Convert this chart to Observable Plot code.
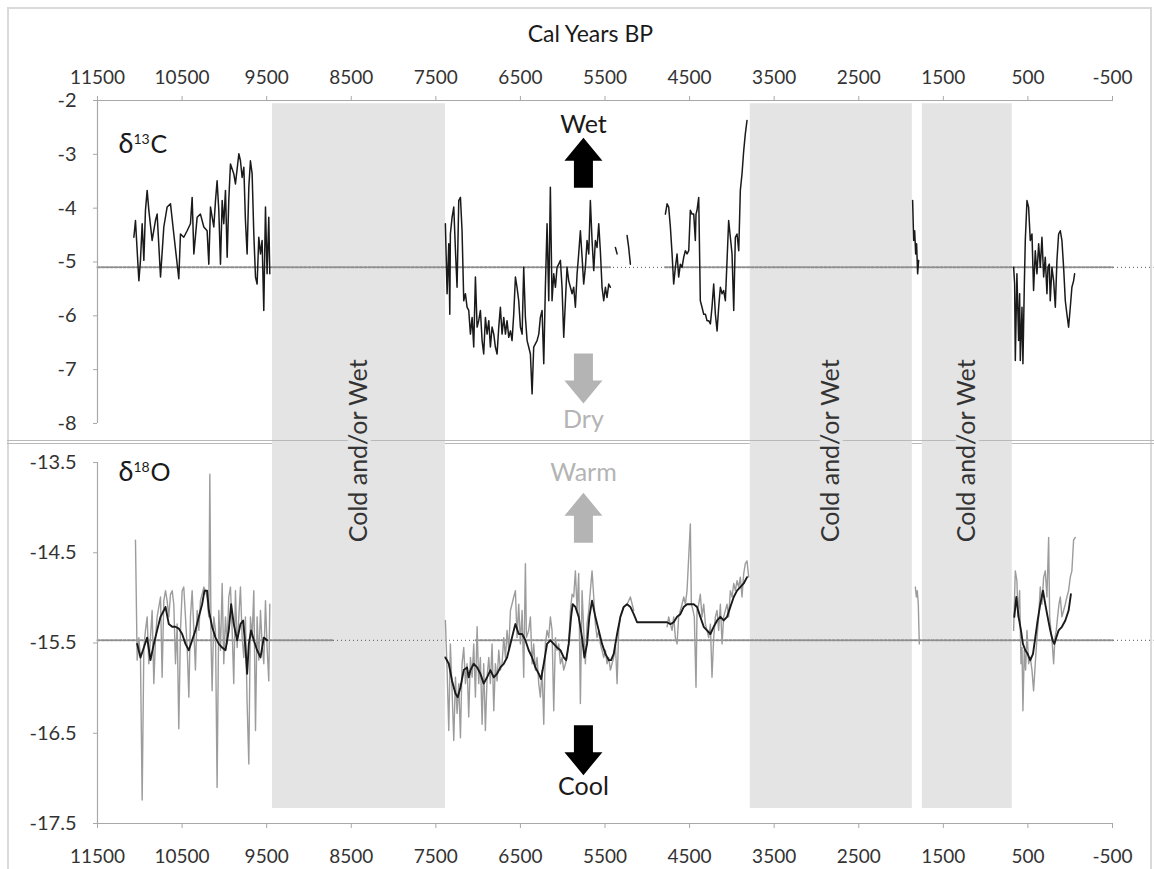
<!DOCTYPE html>
<html><head><meta charset="utf-8">
<script src="https://cdn.jsdelivr.net/npm/d3@7"></script>
<script src="https://cdn.jsdelivr.net/npm/@observablehq/plot@0.6"></script>
<style>
body{margin:0;background:#fff;}
#chart{position:relative;width:1154px;height:869px;overflow:hidden;font-family:Lato,sans-serif;background:#fff;}
#chart svg{position:absolute;left:0;overflow:visible;}
.frame{position:absolute;left:7px;top:7px;width:1141px;height:880px;border-left:2px solid #dadada;border-top:2px solid #dadada;border-right:2px solid #dadada;}
.sep{position:absolute;left:7px;top:440px;width:1147px;height:2px;border-top:1px solid #b9b9b9;border-bottom:1px solid #b9b9b9;}
</style></head><body><div id="chart"><div class="frame"></div></div>
<script>
// ---------- data ----------
const xTicks = [11500, 10500, 9500, 8500, 7500, 6500, 5500, 4500, 3500, 2500, 1500, 500, -500];
const d13cTicks = [-2, -3, -4, -5, -6, -7, -8];
const d18oTicks = [-13.5, -14.5, -15.5, -16.5, -17.5];
const coldBands = [{start: 9431, end: 7387}, {start: 3782, end: 1867}, {start: 1748, end: 685}];
const bandLabel = "Cold and/or Wet";
const d13cMean = -5.1;
const d18oMean = -15.47;
// ranges where the mean line is drawn heavy (start year, end year)
const d13cMeanHeavy = [[11500, 5440], [4790, -500]];
const d18oMeanHeavy = [[11500, 8710], [7030, -500]];

// δ13C record [cal yr BP, ‰]
const d13cSeg1 = [[11070,-4.54],[11051,-4.23],[11011,-5.35],[10992,-4.97],[10972,-4.29],[10952,-4.97],[10933,-4.04],[10913,-3.67],[10893,-4.04],[10854,-4.60],[10815,-4.23],[10795,-4.11],[10755,-5.28],[10716,-4.35],[10677,-3.98],[10637,-3.92],[10598,-4.48],[10539,-5.31],[10519,-4.48],[10480,-4.54],[10440,-4.42],[10401,-4.29],[10381,-3.80],[10361,-4.85],[10322,-4.17],[10283,-4.11],[10243,-4.35],[10204,-4.42],[10184,-5.04],[10164,-3.98],[10125,-4.35],[10105,-3.86],[10086,-3.49],[10066,-4.04],[10046,-5.04],[10026,-3.86],[10007,-4.29],[9987,-3.67],[9967,-4.91],[9948,-3.86],[9928,-3.18],[9889,-3.36],[9869,-3.55],[9829,-2.99],[9810,-3.12],[9790,-3.43],[9770,-3.24],[9751,-4.23],[9731,-4.85],[9711,-3.61],[9692,-3.12],[9672,-3.36],[9652,-4.48],[9632,-5.28],[9613,-5.41],[9593,-4.54],[9573,-4.85],[9554,-4.60],[9534,-5.90],[9514,-3.98],[9495,-5.22],[9475,-4.17],[9463,-5.22]];
const d13cSeg2 = [[7387,-4.29],[7367,-5.59],[7347,-4.66],[7335,-5.97],[7328,-4.48],[7308,-4.17],[7288,-3.98],[7268,-4.79],[7249,-5.47],[7229,-3.86],[7209,-3.80],[7190,-4.42],[7170,-5.72],[7150,-5.59],[7131,-5.84],[7111,-5.90],[7091,-6.34],[7071,-6.03],[7052,-6.58],[7032,-5.28],[7012,-6.21],[6993,-6.09],[6973,-5.90],[6953,-6.46],[6934,-6.71],[6914,-6.03],[6894,-6.34],[6874,-6.09],[6855,-6.58],[6835,-6.21],[6815,-6.34],[6796,-6.58],[6776,-6.71],[6756,-6.21],[6737,-5.84],[6717,-6.34],[6697,-6.03],[6677,-6.34],[6658,-6.09],[6638,-6.40],[6618,-6.28],[6599,-6.46],[6579,-5.97],[6559,-5.28],[6540,-5.47],[6520,-5.72],[6500,-6.21],[6480,-6.34],[6461,-5.10],[6441,-6.03],[6421,-6.46],[6402,-6.58],[6382,-6.71],[6362,-7.45],[6343,-6.58],[6323,-6.52],[6303,-6.46],[6283,-6.34],[6264,-6.03],[6244,-5.90],[6224,-6.89],[6205,-5.47],[6185,-4.29],[6165,-5.72],[6146,-3.61],[6126,-5.72],[6106,-5.22],[6086,-5.47],[6067,-5.10],[6047,-5.04],[6027,-4.97],[6008,-5.47],[5988,-6.40],[5968,-5.72],[5949,-5.10],[5929,-5.35],[5909,-5.47],[5889,-5.59],[5870,-5.47],[5850,-5.84],[5830,-5.22],[5811,-4.85],[5791,-4.42],[5771,-4.91],[5752,-5.41],[5732,-5.10],[5712,-4.60],[5692,-4.85],[5673,-3.86],[5653,-4.60],[5633,-5.16],[5614,-4.60],[5594,-4.73],[5574,-4.29],[5555,-4.79],[5535,-5.47],[5515,-5.72],[5495,-5.47],[5476,-5.66],[5456,-5.41],[5436,-5.47]];
const d13cSeg3 = [[5377,-4.73],[5357,-4.85]];
const d13cSeg4 = [[5239,-4.51],[5220,-4.73],[5200,-5.04]];
const d13cSeg5 = [[4786,-4.11],[4766,-3.92],[4747,-3.98],[4727,-4.35],[4707,-4.85],[4688,-5.41],[4668,-5.10],[4648,-4.85],[4629,-5.28],[4609,-5.04],[4589,-5.10],[4569,-4.91],[4550,-4.79],[4530,-4.85],[4510,-4.79],[4491,-4.04],[4471,-4.11],[4451,-4.11],[4432,-4.60],[4424,-4.11],[4412,-4.04],[4392,-3.80],[4373,-5.72],[4353,-5.84],[4333,-5.97],[4313,-5.97],[4294,-6.09],[4274,-6.09],[4254,-6.15],[4235,-5.84],[4215,-5.41],[4195,-5.97],[4175,-6.28],[4156,-5.84],[4136,-5.47],[4116,-5.59],[4097,-5.53],[4077,-5.72],[4057,-4.97],[4038,-4.23],[4018,-4.54],[3998,-4.85],[3978,-5.90],[3959,-4.54],[3939,-4.48],[3919,-4.79],[3900,-3.67],[3880,-3.36],[3860,-2.93],[3841,-2.62],[3821,-2.37]];
const d13cSeg6 = [[1863,-3.86],[1851,-4.60],[1839,-4.42],[1827,-4.85],[1816,-4.66],[1804,-5.22],[1792,-4.97]];
const d13cSeg7 = [[669,-5.10],[657,-5.41],[649,-6.83],[630,-5.22],[610,-6.46],[598,-5.59],[590,-6.83],[570,-5.84],[559,-6.89],[543,-5.47],[531,-4.60],[511,-3.86],[492,-3.98],[480,-4.35],[472,-4.60],[452,-4.48],[433,-5.53],[413,-4.79],[393,-5.22],[373,-4.66],[354,-5.10],[334,-4.54],[314,-5.28],[295,-4.91],[275,-5.59],[263,-5.10],[247,-5.04],[236,-5.72],[216,-5.10],[196,-5.35],[176,-5.84],[157,-4.97],[137,-4.48],[117,-4.42],[98,-4.60],[78,-5.10],[58,-5.72],[39,-5.97],[19,-6.21],[-1,-5.84],[-20,-5.47],[-40,-5.35],[-52,-5.22]];

// δ18O raw record [cal yr BP, ‰]
const d18oRaw1 = [[11051,-14.36],[11031,-15.69],[11011,-15.44],[10992,-15.66],[10972,-17.24],[10952,-15.55],[10933,-15.36],[10913,-15.21],[10893,-15.73],[10874,-15.44],[10854,-15.14],[10834,-15.95],[10814,-15.44],[10795,-15.21],[10755,-14.99],[10736,-15.88],[10716,-15.03],[10696,-14.92],[10677,-15.03],[10657,-15.21],[10637,-14.96],[10617,-14.92],[10598,-15.07],[10578,-15.73],[10558,-15.29],[10539,-16.45],[10519,-15.36],[10499,-14.92],[10480,-14.88],[10460,-15.21],[10440,-15.55],[10420,-16.10],[10401,-15.21],[10381,-14.92],[10361,-15.36],[10342,-15.80],[10322,-15.14],[10302,-15.36],[10283,-15.03],[10263,-14.96],[10243,-14.88],[10224,-14.92],[10204,-14.99],[10184,-15.21],[10172,-13.63],[10157,-15.51],[10145,-16.03],[10125,-15.21],[10105,-15.36],[10086,-17.10],[10066,-15.14],[10046,-15.58],[10026,-14.84],[10007,-15.73],[9987,-15.21],[9967,-15.51],[9948,-14.99],[9928,-14.88],[9908,-15.36],[9889,-15.95],[9869,-14.92],[9849,-15.55],[9829,-15.21],[9810,-14.88],[9790,-15.44],[9770,-15.66],[9751,-15.21],[9731,-16.17],[9711,-16.84],[9692,-15.21],[9672,-15.44],[9652,-14.92],[9632,-16.47],[9613,-15.21],[9593,-15.69],[9573,-15.14],[9554,-15.51],[9534,-15.73],[9514,-15.03],[9495,-15.55],[9475,-15.92],[9463,-15.07]];
const d18oRaw2 = [[7387,-15.25],[7367,-15.80],[7347,-16.47],[7328,-15.51],[7308,-16.03],[7288,-16.58],[7268,-15.88],[7249,-16.28],[7229,-15.95],[7209,-16.55],[7190,-15.73],[7170,-15.55],[7150,-15.95],[7131,-15.73],[7111,-16.32],[7091,-15.66],[7071,-15.88],[7052,-15.51],[7032,-16.10],[7012,-15.32],[6993,-15.95],[6973,-15.66],[6953,-16.40],[6934,-15.73],[6914,-16.47],[6894,-15.88],[6874,-15.66],[6855,-15.95],[6835,-15.51],[6815,-16.25],[6796,-15.73],[6776,-15.92],[6756,-15.58],[6737,-15.80],[6717,-15.73],[6697,-15.44],[6677,-15.66],[6658,-15.36],[6638,-15.58],[6618,-15.14],[6579,-14.99],[6559,-14.92],[6540,-15.44],[6520,-15.07],[6500,-15.51],[6480,-15.14],[6461,-15.88],[6441,-14.62],[6429,-15.44],[6402,-15.36],[6382,-15.21],[6362,-15.73],[6343,-15.51],[6323,-15.80],[6303,-15.66],[6283,-15.95],[6264,-16.10],[6244,-15.80],[6224,-16.40],[6205,-15.51],[6185,-15.36],[6165,-15.44],[6146,-15.21],[6126,-15.36],[6106,-16.25],[6086,-15.44],[6067,-15.58],[6047,-15.51],[6027,-15.73],[6008,-15.66],[5988,-15.80],[5968,-15.73],[5949,-15.66],[5929,-15.51],[5909,-15.14],[5889,-14.96],[5870,-14.99],[5850,-14.70],[5830,-15.14],[5811,-14.73],[5791,-16.17],[5771,-14.92],[5752,-15.36],[5732,-15.73],[5712,-15.29],[5692,-15.14],[5673,-14.92],[5653,-14.70],[5633,-14.99],[5614,-15.29],[5594,-15.44],[5574,-15.36],[5555,-15.51],[5535,-15.58],[5515,-15.66],[5495,-15.58],[5476,-15.73],[5456,-15.66],[5436,-15.80],[5417,-15.73],[5397,-15.66],[5377,-15.51],[5357,-15.95],[5338,-15.36],[5318,-15.21],[5279,-15.10],[5239,-15.07],[5200,-14.99],[5160,-15.14]];
const d18oRaw3 = [[4766,-15.32],[4747,-15.21],[4727,-15.29],[4707,-15.36],[4688,-15.21],[4668,-15.44],[4648,-15.51],[4629,-15.21],[4609,-15.14],[4589,-15.07],[4569,-14.99],[4550,-15.07],[4530,-14.92],[4491,-14.18],[4479,-15.07],[4459,-15.14],[4444,-15.21],[4424,-15.99],[4412,-15.14],[4392,-15.07],[4373,-14.96],[4353,-15.21],[4333,-15.07],[4313,-15.29],[4294,-15.36],[4274,-15.44],[4254,-15.29],[4235,-15.88],[4215,-15.44],[4195,-15.21],[4175,-15.14],[4156,-15.36],[4136,-15.07],[4116,-15.51],[4097,-15.21],[4077,-15.14],[4057,-15.07],[4038,-15.21],[4018,-14.92],[3998,-14.99],[3978,-14.84],[3959,-14.92],[3939,-14.81],[3919,-14.88],[3900,-14.77],[3880,-14.99],[3860,-14.73],[3841,-14.62],[3821,-14.59],[3801,-14.77]];
const d18oRaw4 = [[1831,-14.88],[1819,-14.99],[1808,-14.92],[1796,-15.07],[1784,-15.51]];
const d18oRaw5 = [[669,-15.36],[649,-14.70],[630,-14.81],[618,-15.21],[598,-14.92],[582,-15.73],[570,-15.55],[559,-16.25],[543,-15.58],[527,-15.80],[511,-15.36],[492,-15.73],[472,-15.66],[452,-15.80],[433,-16.03],[413,-15.73],[393,-15.44],[373,-15.21],[354,-14.88],[334,-15.07],[314,-14.77],[295,-14.70],[275,-14.99],[255,-14.33],[243,-15.21],[228,-15.36],[212,-15.51],[196,-15.73],[180,-15.44],[165,-15.36],[149,-15.21],[133,-15.07],[117,-14.99],[98,-15.21],[78,-15.14],[58,-15.07],[39,-14.99],[19,-14.92],[-1,-14.77],[-20,-14.70],[-40,-14.36],[-60,-14.33]];

// δ18O smoothed record [cal yr BP, ‰]
const d18oSmooth1 = [[11031,-15.51],[10992,-15.66],[10952,-15.55],[10913,-15.44],[10874,-15.69],[10834,-15.51],[10795,-15.36],[10755,-15.21],[10716,-15.14],[10696,-15.10],[10657,-15.29],[10617,-15.32],[10578,-15.32],[10539,-15.34],[10499,-15.40],[10460,-15.51],[10420,-15.58],[10381,-15.47],[10342,-15.36],[10302,-15.21],[10263,-15.07],[10235,-14.92],[10204,-14.92],[10184,-15.14],[10145,-15.32],[10105,-15.44],[10066,-15.51],[10026,-15.55],[9987,-15.58],[9948,-15.36],[9920,-15.07],[9889,-15.29],[9849,-15.47],[9810,-15.29],[9778,-15.25],[9751,-15.55],[9731,-15.84],[9711,-15.51],[9684,-15.36],[9652,-15.47],[9613,-15.58],[9573,-15.66],[9534,-15.44],[9495,-15.47]];
const d18oSmooth2 = [[7387,-15.66],[7347,-15.73],[7308,-15.92],[7268,-16.06],[7241,-16.10],[7209,-15.99],[7170,-15.80],[7131,-15.77],[7111,-15.88],[7091,-15.80],[7052,-15.73],[7012,-15.77],[6973,-15.84],[6934,-15.95],[6894,-15.88],[6855,-15.80],[6815,-15.88],[6776,-15.84],[6737,-15.77],[6697,-15.73],[6658,-15.66],[6618,-15.51],[6579,-15.36],[6559,-15.29],[6520,-15.40],[6480,-15.40],[6441,-15.47],[6402,-15.58],[6362,-15.66],[6323,-15.77],[6283,-15.84],[6256,-15.90],[6224,-15.73],[6185,-15.51],[6146,-15.47],[6106,-15.51],[6067,-15.55],[6027,-15.58],[5988,-15.66],[5960,-15.69],[5929,-15.51],[5901,-15.21],[5882,-15.07],[5850,-15.10],[5811,-15.21],[5771,-15.44],[5744,-15.66],[5712,-15.51],[5685,-15.21],[5653,-15.03],[5614,-15.21],[5574,-15.36],[5535,-15.51],[5495,-15.62],[5456,-15.69],[5428,-15.69],[5397,-15.62],[5357,-15.40],[5318,-15.21],[5279,-15.10],[5239,-15.07],[5200,-15.10],[5160,-15.18],[5121,-15.27],[5082,-15.27],[4766,-15.27],[4727,-15.29],[4688,-15.27],[4648,-15.21],[4609,-15.18],[4569,-15.10],[4530,-15.07],[4491,-15.07],[4451,-15.07],[4412,-15.10],[4373,-15.21],[4333,-15.32],[4294,-15.36],[4254,-15.40],[4215,-15.32],[4175,-15.25],[4136,-15.21],[4097,-15.25],[4057,-15.21],[4018,-15.10],[3978,-14.99],[3939,-14.92],[3900,-14.88],[3860,-14.84],[3821,-14.77]];
const d18oSmooth3 = [[661,-15.21],[637,-14.99],[610,-15.21],[582,-15.36],[559,-15.51],[531,-15.58],[504,-15.62],[472,-15.69],[440,-15.62],[413,-15.44],[385,-15.25],[354,-15.07],[322,-14.92],[295,-15.07],[267,-15.21],[236,-15.36],[208,-15.47],[188,-15.51],[165,-15.44],[137,-15.36],[98,-15.32],[58,-15.25],[19,-15.14],[-8,-14.96]];

// annotations: direction arrows and their words
const topArrows = [{year: 5755, v: -3.62, rot: 0, color: "#000"}, {year: 5755, v: -6.70, rot: 180, color: "#b4b4b4"}];
const topWords = [{year: 5755, v: -2.46, text: "Wet", color: "#1a1a1a"}, {year: 5755, v: -7.94, text: "Dry", color: "#b4b4b4"}];
const botArrows = [{year: 5755, v: -14.39, rot: 0, color: "#b4b4b4"}, {year: 5755, v: -16.41, rot: 180, color: "#000"}];
const botWords = [{year: 5755, v: -13.62, text: "Warm", color: "#b4b4b4"}, {year: 5755, v: -17.10, text: "Cool", color: "#1a1a1a"}];
const title = "Cal Years BP";

// ---------- build ----------
const bandColor = "#e4e4e4";
const axisGrey = "#a8a8a8";
const labelColor = "#333";
const toRows = (segs) => segs.flatMap((s, i) => s.map(([year, v]) => ({year, v, seg: i})));
const d13c = toRows([d13cSeg1, d13cSeg2, d13cSeg3, d13cSeg4, d13cSeg5, d13cSeg6, d13cSeg7]);
const d18oRaw = toRows([d18oRaw1, d18oRaw2, d18oRaw3, d18oRaw4, d18oRaw5]);
const d18oSmooth = toRows([d18oSmooth1, d18oSmooth2, d18oSmooth3]);
const heavyRows = (ranges, m) => ranges.flatMap(([a, b], i) => [{year: a, v: m, seg: i}, {year: b, v: m, seg: i}]);

const blockArrow = {
  draw(context, l, r) {
    const hl = l * 0.46, sw = r * 0.5;
    context.moveTo(-sw, 0);
    context.lineTo(-sw, -l + hl);
    context.lineTo(-r, -l + hl);
    context.lineTo(0, -l);
    context.lineTo(r, -l + hl);
    context.lineTo(sw, -l + hl);
    context.lineTo(sw, 0);
    context.closePath();
  }
};
const fmt = (d) => String(d);
const fontFam = "Lato, sans-serif";

function arrowMarks(arrows) {
  return arrows.map((a) => Plot.vector([a], {x: "year", y: "v", rotate: "rot", length: 50, r: 19, anchor: "start", shape: blockArrow, fill: a.color, stroke: "none"}));
}
function wordMarks(words) {
  return words.map((w) => Plot.text([w], {x: "year", y: "v", text: "text", fill: w.color, fontSize: 25, lineAnchor: "middle"}));
}
const meanMarks = (m, heavy) => [
  Plot.ruleY([m], {x1: 11500, x2: -990, stroke: "#555", strokeWidth: 1, strokeDasharray: "1,3"}),
  Plot.line(heavyRows(heavy, m), {x: "year", y: "v", z: "seg", stroke: "#8e8e8e", strokeWidth: 2, strokeDasharray: "2.5,1.8"})
];

const topPlot = Plot.plot({
  width: 1154, height: 443,
  marginLeft: 97, marginRight: 42, marginTop: 100, marginBottom: 0,
  style: {fontFamily: fontFam, color: labelColor, background: "transparent", overflow: "visible"},
  x: {domain: [11500, -500], label: null},
  y: {domain: [-8.372, -2], label: null},
  marks: [
    Plot.rect(coldBands, {x1: "start", x2: "end", y1: -2.06, y2: -8.372, fill: bandColor}),
    ...meanMarks(d13cMean, d13cMeanHeavy),
    Plot.ruleY([-2], {x1: 11500, x2: -500, stroke: axisGrey, strokeWidth: 1.2}),
    Plot.ruleX([11500], {y1: -2, y2: -8, stroke: axisGrey, strokeWidth: 1.2}),
    Plot.axisX({anchor: "top", ticks: xTicks, tickFormat: fmt, tickSize: 5, tickPadding: 12, fontSize: 19, stroke: axisGrey, label: null}),
    Plot.axisY({anchor: "left", ticks: d13cTicks, tickFormat: fmt, tickSize: 4, tickPadding: 17, fontSize: 20, stroke: axisGrey, label: null}),
    Plot.line(d13c, {x: "year", y: "v", z: "seg", stroke: "#1a1a1a", strokeWidth: 1.5}),
    ...arrowMarks(topArrows),
    ...wordMarks(topWords),
    Plot.text([title], {x: 5673, y: -2, dy: -66, fontSize: 23, fill: "#1a1a1a"}),
    Plot.text(["δ"], {x: 11252, y: -2.97, textAnchor: "start", lineAnchor: "bottom", fontSize: 27, fill: "#1a1a1a"}),
    Plot.text(["13"], {x: 11252, y: -2.97, dx: 15, dy: -9, textAnchor: "start", lineAnchor: "bottom", fontSize: 14, fill: "#1a1a1a"}),
    Plot.text(["C"], {x: 11252, y: -2.97, dx: 32, textAnchor: "start", lineAnchor: "bottom", fontSize: 25, fill: "#1a1a1a"})
  ]
});

const botPlot = Plot.plot({
  width: 1154, height: 426,
  marginLeft: 97, marginRight: 42, marginTop: 0, marginBottom: 46,
  style: {fontFamily: fontFam, color: labelColor, background: "transparent", overflow: "visible"},
  x: {domain: [11500, -500], label: null},
  y: {domain: [-17.5, -13.289], label: null},
  marks: [
    Plot.rect(coldBands, {x1: "start", x2: "end", y1: -13.289, y2: -17.334, fill: bandColor}),
    ...meanMarks(d18oMean, d18oMeanHeavy),
    Plot.ruleY([-17.5], {x1: 11500, x2: -500, stroke: axisGrey, strokeWidth: 1.2}),
    Plot.ruleX([11500], {y1: -13.5, y2: -17.5, stroke: axisGrey, strokeWidth: 1.2}),
    Plot.axisX({anchor: "bottom", ticks: xTicks, tickFormat: fmt, tickSize: 5, tickPadding: 21, fontSize: 19, stroke: axisGrey, label: null}),
    Plot.axisY({anchor: "left", ticks: d18oTicks, tickFormat: fmt, tickSize: 4, tickPadding: 17, fontSize: 20, stroke: axisGrey, label: null}),
    Plot.line(d18oRaw, {x: "year", y: "v", z: "seg", stroke: "#9c9c9c", strokeWidth: 1.4}),
    Plot.line(d18oSmooth, {x: "year", y: "v", z: "seg", stroke: "#1a1a1a", strokeWidth: 1.9}),
    ...arrowMarks(botArrows),
    ...wordMarks(botWords),
    Plot.text(["δ"], {x: 11252, y: -13.70, textAnchor: "start", lineAnchor: "bottom", fontSize: 27, fill: "#1a1a1a"}),
    Plot.text(["18"], {x: 11252, y: -13.70, dx: 15, dy: -9, textAnchor: "start", lineAnchor: "bottom", fontSize: 14, fill: "#1a1a1a"}),
    Plot.text(["O"], {x: 11252, y: -13.70, dx: 32, textAnchor: "start", lineAnchor: "bottom", fontSize: 25, fill: "#1a1a1a"}),
    Plot.text(coldBands, {x: (d) => (d.start + d.end) / 2, y: -13.37, text: () => bandLabel, rotate: -90, fontSize: 25, fill: "#333", stroke: bandColor, strokeWidth: 8, paintOrder: "stroke"})
  ]
});

const chart = document.getElementById("chart");
topPlot.style.top = "0px";
chart.appendChild(topPlot);
const sep = document.createElement("div");
sep.className = "sep";
chart.appendChild(sep);
botPlot.style.top = "443px";
chart.appendChild(botPlot);
</script>
</body></html>
